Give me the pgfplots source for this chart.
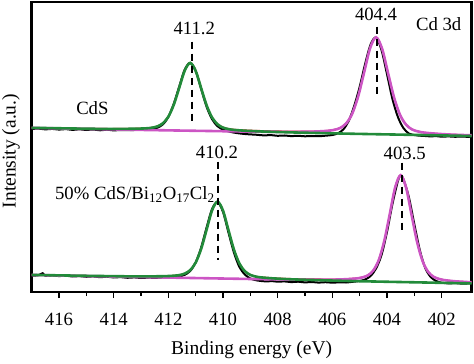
\documentclass[border=0pt]{standalone}
\usepackage{pgfplots}
\pgfplotsset{compat=1.18}
\usepackage{fontspec}
\setmainfont{Liberation Serif}
\definecolor{fitgreen}{RGB}{34,139,58}
\definecolor{fitmag}{RGB}{204,85,196}
\definecolor{fitred}{RGB}{230,40,40}
\begin{document}
\begin{tikzpicture}[font=\fontsize{18.7}{22}\selectfont]
\begin{axis}[
  at={(0,0)}, anchor=south west,
  scale only axis, width=440pt, height=290pt,
  xmin=400.9, xmax=417, ymin=0, ymax=290,
  x dir=reverse,
  xtick={402,404,...,416},
  minor xtick={403,405,...,415},
  ytick=\empty,
  xtick pos=bottom,
  tick align=outside,
  major tick length=6pt, minor tick length=4pt,
  every tick/.style={black, line width=1.5pt},
  axis line style={line width=2.5pt},
  /pgf/number format/assume math mode=true,
  tick label style={font=\fontsize{18.7}{22}\selectfont},
  xticklabel style={anchor=base, yshift=-27pt},
  label style={font=\fontsize{19.5}{23}\selectfont},
  xlabel={Binding energy (eV)},
  ylabel={Intensity (a.u.)},
  xlabel style={at={(axis description cs:0.5,-0.217)}, anchor=base},
  ylabel style={at={(axis description cs:-0.047,0.486)}, anchor=center},
  clip=true,
]
% ---------- upper spectrum (CdS) : data ----------
\addplot[black, line width=2pt, smooth] coordinates {
(417,163.0)(416.75,163.4)(416.5,162.6)(416.25,163.1)(416,162.4)(415.75,162.9)
(415.5,162.1)(415.25,162.7)(415,162.0)(414.75,162.5)(414.5,161.7)(414.25,162.3)
(414,161.6)(413.75,162.0)(413.5,161.9)(413.25,162.0)(413.0,162.3)(412.8,162.6)
(412.6,163.2)(412.4,164.3)(412.2,167.6)(412.0,175.0)(411.8,188.4)(411.6,205.6)
(411.4,222.5)(411.2,229.0)(411.0,221.0)(410.8,203.0)(410.6,185.2)(410.4,172.8)
(410.2,165.8)(410.0,162.4)(409.8,160.6)(409.6,159.4)(409.4,158.6)(409.2,158.0)
(409.0,157.6)(408.75,157.2)(408.5,156.6)(408.25,156.9)(408.0,156.2)(407.75,156.5)
(407.5,155.9)(407.25,156.2)(407.0,155.7)(406.75,156.0)(406.5,155.8)(406.25,156.3)
(406.0,157.0)(405.8,158.6)(405.6,162.5)(405.4,171.0)(405.2,186.0)(405.0,205.0)
(404.8,228.0)(404.6,247.5)(404.4,254.5)(404.2,242.0)(404.0,218.0)(403.8,193.0)
(403.6,175.0)(403.4,164.0)(403.2,158.5)(403.0,157.0)(402.8,156.3)(402.6,156.0)
(402.4,155.6)(402.2,155.9)(402.0,155.3)(401.75,155.6)(401.5,155.2)(401.25,155.5)
(401.0,155.0)(400.9,155.2)
};
% ---------- lower spectrum (50% CdS/Bi12O17Cl2) : data ----------
\addplot[black, line width=2pt, smooth] coordinates {
(417,16.3)(416.75,16.8)(416.6,18.8)(416.5,16.2)(416.25,16.6)(416,15.9)
(415.75,16.3)(415.5,15.5)(415.25,15.9)(415,15.2)(414.75,15.6)(414.5,14.8)
(414.25,15.3)(414,14.5)(413.75,14.9)(413.5,14.2)(413.25,14.6)(413,14.0)
(412.75,14.4)(412.5,14.1)(412.25,14.5)(412.0,14.6)(411.8,15.0)(411.6,15.6)
(411.4,17.2)(411.2,21.0)(411.0,29.5)(410.8,44.5)(410.6,64.5)(410.4,83.0)
(410.2,90.0)(410.0,80.0)(409.8,59.5)(409.6,39.5)(409.4,25.0)(409.2,17.5)
(409.0,13.5)(408.8,11.8)(408.6,11.0)(408.4,10.6)(408.2,10.9)(408.0,10.3)
(407.75,10.6)(407.5,9.9)(407.25,10.3)(407.0,9.6)(406.75,10.0)(406.5,9.4)
(406.25,9.8)(406.0,9.3)(405.75,9.7)(405.5,9.5)(405.25,10.2)(405.0,11.0)
(404.8,12.5)(404.6,16.0)(404.4,23.5)(404.2,37.0)(404.0,60.0)(403.8,88.0)
(403.6,111.0)(403.5,116.5)(403.4,113.0)(403.2,95.0)(403.0,68.0)(402.8,42.0)
(402.6,24.0)(402.4,15.0)(402.2,11.0)(402.0,9.3)(401.75,8.6)(401.5,8.9)
(401.25,8.3)(401.0,8.6)(400.9,8.4)
};
% ---------- envelopes (red) ----------
\addplot[fitred, line width=1.5pt, smooth] coordinates {
(417,164.3)(415,163.4)(414,163.25)(413.2,163.5)(412.8,163.9)(412.6,164.5)
(412.4,165.8)(412.2,168.9)(412.0,175.5)(411.8,187.5)(411.6,204.5)(411.4,221.6)
(411.2,229.3)(411.0,221.4)(410.8,204.1)(410.6,186.9)(410.4,174.7)(410.2,167.9)
(410.0,164.7)(409.8,163.2)(409.6,162.5)(409.2,161.8)(408.7,161.3)(408.2,160.9)
(407.7,160.7)(407.15,160.6)(406.6,160.75)(406.16,161.4)(405.94,162.3)(405.72,164.0)
(405.5,168.5)(405.28,177.9)(405.06,195.1)(404.84,219.3)(404.62,243.7)(404.4,254.8)
(404.18,243.5)(403.96,218.9)(403.74,194.5)(403.52,177.1)(403.3,167.3)(403.08,162.6)
(402.86,160.6)(402.64,159.5)(402.2,158.4)(401.65,157.5)(400.9,156.8)
};
\addplot[fitred, line width=1.5pt, smooth] coordinates {
(417,17.1)(415,16.25)(413.2,15.7)(412.2,15.9)(411.8,16.4)(411.6,17.0)
(411.4,18.5)(411.2,22.0)(411.0,29.5)(410.8,43.1)(410.6,62.4)(410.4,81.7)
(410.2,90.5)(410.0,81.5)(409.8,62.0)(409.6,42.5)(409.4,28.6)(409.2,20.9)
(409.0,17.3)(408.8,15.6)(408.6,14.9)(408.2,14.0)(407.7,13.4)(407.2,13.0)
(406.6,12.8)(406.0,12.7)(405.5,13.07)(405.1,13.85)(404.9,14.85)(404.7,16.8)
(404.5,21.7)(404.3,32.1)(404.1,51.05)(403.9,77.75)(403.7,104.75)(403.5,116.95)
(403.3,104.5)(403.1,77.3)(402.9,50.4)(402.7,31.2)(402.5,20.5)(402.3,15.4)
(402.1,13.2)(401.9,12.0)(401.5,10.8)(400.9,9.8)
};
% ---------- magenta components ----------
\addplot[fitmag, line width=2.6pt, smooth] coordinates {
(417,164.1)(413,162.1)(411,161.2)(409.9,160.75)(408.8,160.35)(407.7,160.15)
(407.15,160.2)(406.6,160.5)(406.16,161.2)(405.94,162.1)(405.72,163.9)(405.5,168.35)
(405.28,177.8)(405.06,195.0)(404.84,219.2)(404.62,243.6)(404.4,254.7)(404.18,243.4)
(403.96,218.8)(403.74,194.4)(403.52,177.0)(403.3,167.25)(403.08,162.5)(402.86,160.5)
(402.64,159.4)(402.2,158.3)(401.65,157.4)(400.9,156.7)
};
\addplot[fitmag, line width=2.6pt, smooth] coordinates {
(417,17.05)(413.5,15.2)(410.5,13.7)(408.5,12.8)(407.5,12.45)(406.5,12.3)
(406.0,12.35)(405.5,12.8)(405.1,13.6)(404.9,14.6)(404.7,16.6)(404.5,21.5)
(404.3,31.95)(404.1,50.9)(403.9,77.6)(403.7,104.6)(403.5,116.8)(403.3,104.4)
(403.1,77.2)(402.9,50.3)(402.7,31.1)(402.5,20.4)(402.3,15.3)(402.1,13.1)
(401.9,11.9)(401.5,10.7)(400.9,9.7)
};
% ---------- green components ----------
\addplot[fitgreen, line width=2.6pt, smooth] coordinates {
(417,164.2)(415,163.3)(414,163.1)(413.2,163.3)(412.8,163.7)(412.6,164.3)
(412.4,165.6)(412.2,168.7)(412.0,175.3)(411.8,187.3)(411.6,204.3)(411.4,221.4)
(411.2,229.1)(411.0,221.2)(410.8,203.9)(410.6,186.7)(410.4,174.5)(410.2,167.7)
(410.0,164.4)(409.8,162.9)(409.6,162.1)(409.2,161.3)(408.7,160.65)(408.2,160.15)
(407.2,159.4)(406.2,158.8)(405,158.1)(403,157.1)(400.9,156.0)
};
\addplot[fitgreen, line width=2.6pt, smooth] coordinates {
(417,17.1)(415,16.2)(413.2,15.6)(412.2,15.8)(411.8,16.3)(411.6,16.9)
(411.4,18.4)(411.2,21.9)(411.0,29.4)(410.8,43.0)(410.6,62.3)(410.4,81.6)
(410.2,90.4)(410.0,81.4)(409.8,61.9)(409.6,42.4)(409.4,28.5)(409.2,20.8)
(409.0,17.1)(408.8,15.4)(408.6,14.6)(408.2,13.7)(407.7,12.95)(407.2,12.4)
(406.2,11.6)(405.2,10.9)(403,9.7)(400.9,8.6)
};
% ---------- dashed peak markers ----------
\addplot[black, line width=2pt, dash pattern=on 7pt off 5pt] coordinates {(411.15,250.3) (411.15,170.3)};
\addplot[black, line width=2pt, dash pattern=on 7pt off 5pt] coordinates {(404.35,265.3) (404.35,195.3)};
\addplot[black, line width=2pt, dash pattern=on 7pt off 5pt] coordinates {(410.2,130.3) (410.2,32)};
\addplot[black, line width=2pt, dash pattern=on 7pt off 5pt] coordinates {(403.45,129.3) (403.45,59)};
% ---------- annotations ----------
\node[anchor=base] at (axis cs:411.05,257) {411.2};
\node[anchor=base] at (axis cs:404.4,271.3) {404.4};
\node[anchor=base east] at (axis cs:401.15,261.3) {Cd 3d};
\node[anchor=base] at (axis cs:414.78,177.7) {CdS};
\node[anchor=base] at (axis cs:410.22,133.7) {410.2};
\node[anchor=base] at (axis cs:403.35,132.7) {403.5};
\node[anchor=base west, inner sep=0pt] at (axis cs:416.15,92) {50\% CdS/Bi\textsubscript{12}O\textsubscript{17}Cl\textsubscript{2}};
\end{axis}
\pgfresetboundingbox
\path[use as bounding box] (-31.7pt,-72pt) rectangle (442.3pt,292pt);
\end{tikzpicture}
\end{document}
